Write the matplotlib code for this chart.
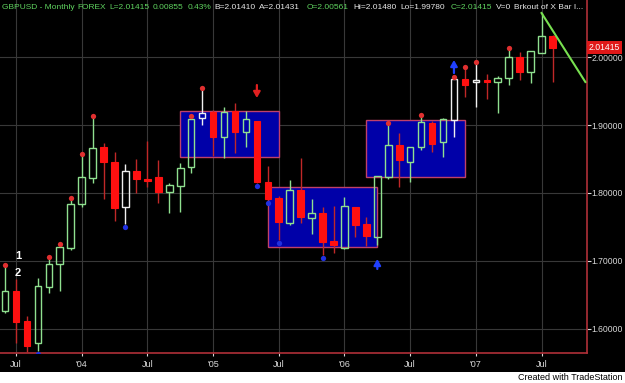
import matplotlib
matplotlib.use("Agg")
import matplotlib.pyplot as plt
from matplotlib.patches import Rectangle

plt.rcParams['font.family'] = ['Liberation Sans', 'DejaVu Sans']

# ---------------- data ----------------
months = ["Jun03", "Jul03", "Aug03", "Sep03", "Oct03", "Nov03", "Dec03",
          "Jan04", "Feb04", "Mar04", "Apr04", "May04", "Jun04", "Jul04",
          "Aug04", "Sep04", "Oct04", "Nov04", "Dec04",
          "Jan05", "Feb05", "Mar05", "Apr05", "May05", "Jun05", "Jul05",
          "Aug05", "Sep05", "Oct05", "Nov05", "Dec05",
          "Jan06", "Feb06", "Mar06", "Apr06", "May06", "Jun06", "Jul06",
          "Aug06", "Sep06", "Oct06", "Nov06", "Dec06",
          "Jan07", "Feb07", "Mar07", "Apr07", "May07", "Jun07", "Jul07", "Aug07"]
opens  = [1.6258, 1.6553, 1.6111, 1.5786, 1.6613, 1.6951, 1.7187,
          1.7836, 1.8220, 1.8677, 1.8456, 1.7792, 1.8323, 1.8198,
          1.8235, 1.8013, 1.8102, 1.8382, 1.9105,
          1.9193, 1.8825, 1.9208, 1.8898, 1.9060, 1.8161, 1.7925,
          1.7556, 1.8043, 1.7630, 1.7704, 1.7291,
          1.7187, 1.7792, 1.7541, 1.7350, 1.8235, 1.8706, 1.8456,
          1.8677, 1.9031, 1.8751, 1.9075, 1.9680,
          1.9643, 1.9658, 1.9636, 1.9695, 2.0004, 1.9783, 2.0063, 2.0314]
highs  = [1.6913, 1.6730, 1.6185, 1.6745, 1.7025, 1.7217, 1.7895,
          1.8544, 1.9105, 1.8736, 1.8603, 1.8426, 1.8500, 1.8765,
          1.8485, 1.8146, 1.8441, 1.9105, 1.9518,
          1.9223, 1.9267, 1.9326, 1.9208, 1.9060, 1.8397, 1.7954,
          1.8190, 1.8515, 1.7910, 1.7792, 1.7807,
          1.7940, 1.7792, 1.7645, 1.8249, 1.9001, 1.8883, 1.8677,
          1.9119, 1.9060, 1.9105, 1.9680, 1.9827,
          1.9901, 1.9754, 1.9724, 2.0108, 2.0078, 2.0093, 2.0653, 2.0329]
lows   = [1.6229, 1.5786, 1.5653, 1.5668, 1.6524, 1.6553, 1.7158,
          1.7792, 1.8146, 1.7910, 1.7586, 1.7541, 1.7999, 1.8087,
          1.7851, 1.7704, 1.7718, 1.8294, 1.9001,
          1.8544, 1.8515, 1.8588, 1.8677, 1.8146, 1.7895, 1.7305,
          1.7527, 1.7556, 1.7394, 1.7084, 1.7114,
          1.7172, 1.7350, 1.7217, 1.7232, 1.8205, 1.8087, 1.8161,
          1.8633, 1.8603, 1.8530, 1.8825, 1.9414,
          1.9267, 1.9385, 1.9178, 1.9591, 1.9665, 1.9621, 2.0063, 1.9636]
closes = [1.6553, 1.6096, 1.5742, 1.6623, 1.6951, 1.7202, 1.7836,
          1.8235, 1.8662, 1.8456, 1.7777, 1.8323, 1.8205, 1.8183,
          1.8013, 1.8117, 1.8367, 1.9090, 1.9178,
          1.8825, 1.9193, 1.8898, 1.9090, 1.8161, 1.7910, 1.7571,
          1.8043, 1.7645, 1.7704, 1.7276, 1.7232,
          1.7807, 1.7527, 1.7364, 1.8249, 1.8706, 1.8485, 1.8677,
          1.9046, 1.8721, 1.9090, 1.9680, 1.9591,
          1.9658, 1.9643, 1.9695, 2.0004, 1.9783, 2.0093, 2.0314, 2.0137]
white_bars = ["May04", "Dec04", "Nov06", "Jan07"]

swing_high_months = ["Jun03", "Oct03", "Nov03", "Dec03", "Jan04", "Feb04",
                     "Nov04", "Dec04", "May06", "Aug06", "Nov06", "Dec06",
                     "Jan07", "Apr07"]
swing_low_months = ["Sep03", "May04", "May05", "Jun05", "Jul05", "Nov05"]

# breakout boxes
box_start = ["Oct04", "Jun05", "Mar06"]
box_end = ["Jul05", "Apr06", "Dec06"]
box_top = [1.9208, 1.8087, 1.9075]
box_bottom = [1.8530, 1.7202, 1.8235]

# arrows
arrow_months = ["May05", "Apr06", "Nov06"]
arrow_tail = [1.9591, 1.6878, 1.9768]
arrow_tip = [1.9400, 1.7025, 1.9960]
arrow_colors = ["#E02020", "#2040FF", "#2040FF"]

trend_months = ["Jul07", "Nov07"]
trend_prices = [2.0653, 1.9636]

price_ticks = [1.6, 1.7, 1.8, 1.9, 2.0]
time_tick_months = ["Jul03", "Jan04", "Jul04", "Jan05", "Jul05", "Jan06", "Jul06", "Jan07", "Jul07"]
time_tick_labels = ["Jul", "'04", "Jul", "'05", "Jul", "'06", "Jul", "'07", "Jul"]
last_price = 2.01415

# ---------------- helpers ----------------
MON = {"Jan": 1, "Feb": 2, "Mar": 3, "Apr": 4, "May": 5, "Jun": 6,
       "Jul": 7, "Aug": 8, "Sep": 9, "Oct": 10, "Nov": 11, "Dec": 12}


def xpos(label):
    m = MON[label[:3]]
    y = 2000 + int(label[3:])
    return (y - 2003) * 12 + (m - 7)


GREEN = "#8fe08f"
WHITE = "#f0f0f0"
RED = "#ff1010"
RED_WICK = "#c02828"

fig = plt.figure(figsize=(6.25, 3.83), dpi=100, facecolor="black")
ax = fig.add_axes([0, 30 / 383, 587 / 625, 353 / 383])
ax.set_facecolor("black")
ax.set_xlim(-1.46, 52.15)
ax.set_ylim(1.5639, 2.0845)

for m in time_tick_months:
    ax.axvline(xpos(m), color="#383838", lw=0.8, zorder=0)
for p in price_ticks:
    ax.axhline(p, color="#383838", lw=0.8, zorder=0)

for s, e, t, b in zip(box_start, box_end, box_top, box_bottom):
    x0, x1 = xpos(s), xpos(e)
    ax.add_patch(Rectangle((x0, b), x1 - x0, t - b, facecolor="#0000a8",
                           edgecolor="#c0406a", lw=1.0, zorder=1))

W = 0.6
for lab, o, h, l, c in zip(months, opens, highs, lows, closes):
    x = xpos(lab)
    top, bot = max(o, c), min(o, c)
    if top - bot < 0.0015:
        mid = (top + bot) / 2
        top, bot = mid + 0.00075, mid - 0.00075
    if c >= o:
        col = WHITE if lab in white_bars else GREEN
        ax.vlines(x, top, h, color=col, lw=1.0, zorder=3)
        ax.vlines(x, l, bot, color=col, lw=1.0, zorder=3)
        ax.add_patch(Rectangle((x - W / 2, bot), W, top - bot, facecolor="none",
                               edgecolor=col, lw=1.0, zorder=4))
    else:
        ax.vlines(x, l, h, color=RED_WICK, lw=1.0, zorder=3)
        ax.add_patch(Rectangle((x - W / 2, bot), W, top - bot, facecolor=RED,
                               edgecolor=RED, lw=0.8, zorder=4))

idx = {m: i for i, m in enumerate(months)}
ax.plot([xpos(m) for m in swing_high_months],
        [highs[idx[m]] + 0.003 for m in swing_high_months],
        "o", color="#e03030", ms=3.8, mec="none", zorder=5)
ax.plot([xpos(m) for m in swing_low_months],
        [lows[idx[m]] - 0.004 for m in swing_low_months],
        "o", color="#2030e0", ms=3.8, mec="none", zorder=5)

for m, tl, tp, col in zip(arrow_months, arrow_tail, arrow_tip, arrow_colors):
    ax.annotate("", xy=(xpos(m), tp), xytext=(xpos(m), tl),
                arrowprops=dict(arrowstyle="-|>,head_length=0.35,head_width=0.2",
                                color=col, lw=1.6, shrinkA=0, shrinkB=0), zorder=6)

ax.plot([xpos(m) for m in trend_months], trend_prices, color="#78e050", lw=1.5, zorder=6)

ax.text(0.2, 1.7069, "1", color="white", fontsize=8, fontweight="bold",
        ha="center", va="center", zorder=7)
ax.text(0.2, 1.6819, "2", color="white", fontsize=8, fontweight="bold",
        ha="center", va="center", zorder=7)

for s in ["top", "left"]:
    ax.spines[s].set_visible(False)
ax.spines["right"].set_color("#b03038")
ax.spines["bottom"].set_color("#b03038")
ax.spines["right"].set_linewidth(1.2)
ax.spines["bottom"].set_linewidth(1.2)
ax.yaxis.tick_right()
ax.set_yticks(price_ticks)
ax.set_yticklabels([f"{p:.5f}" for p in price_ticks])
ax.tick_params(axis="y", colors="#d8d8d8", labelsize=6.2, length=3, pad=0.5, width=0.8)
ax.set_xticks([xpos(m) for m in time_tick_months])
ax.set_xticklabels(time_tick_labels)
ax.tick_params(axis="x", colors="#d8d8d8", labelsize=6.5, length=2, pad=3, width=0.8)

ax.text(1.003, last_price, f"{last_price:.5f}", transform=ax.get_yaxis_transform(),
        color="white", fontsize=6.2, va="center", ha="left", zorder=8,
        bbox=dict(boxstyle="square,pad=0.2", facecolor="#e01818", edgecolor="none"),
        clip_on=False)

# header: each piece at its reference position, never overlapping the previous
hy = 1 - 7.5 / 383
header = [("GBPUSD - Monthly", 2, "#5fd35f"), ("FOREX", 77, "#5fd35f"),
          ("L=2.01415", 108, "#5fd35f"), ("0.00855", 152, "#5fd35f"),
          ("0.43%", 188, "#5fd35f"), ("B=2.01410", 214, "#e8e8e8"),
          ("A=2.01431", 259, "#e8e8e8"), ("O=2.00561", 307, "#5fd35f"),
          ("Hi=2.01480", 353, "#e8e8e8"), ("Lo=1.99780", 400, "#e8e8e8"),
          ("C=2.01415", 451, "#5fd35f"), ("V=0", 492, "#e8e8e8"),
          ("Brkout of X Bar I...", 508, "#e8e8e8")]
renderer = fig.canvas.get_renderer()
prev_end = -10
for txt, px, col in header:
    x = max(px, prev_end + 3)
    t = fig.text(x / 625, hy, txt, color=col, fontsize=6, ha="left", va="center")
    bb = t.get_window_extent(renderer=renderer)
    prev_end = bb.x1

fig.patches.append(Rectangle((0, 0), 1, 11 / 383, transform=fig.transFigure,
                             facecolor="white", edgecolor="none", zorder=0))
fig.text(622 / 625, 5 / 383, "Created with TradeStation", color="black",
         fontsize=6.5, ha="right", va="center")

fig.savefig("out.png", dpi=100, facecolor="black")
